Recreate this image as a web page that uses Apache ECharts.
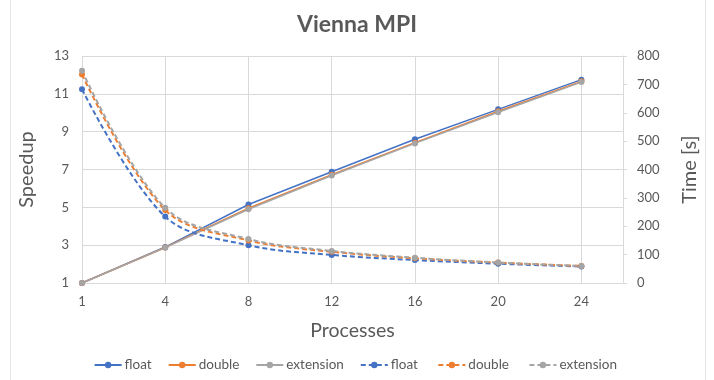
<!DOCTYPE html>
<html>
<head>
<meta charset="utf-8">
<script src="https://cdn.jsdelivr.net/npm/echarts@6/dist/echarts.min.js"></script>
<style>
  html, body { margin: 0; padding: 0; background: #fff; overflow: hidden; }
  .wrap { position: relative; width: 714px; height: 380px; }
  .frame {
    position: absolute; left: 10px; top: -2px; width: 694px; height: 382px;
    border: 1px solid #E6E6E6; pointer-events: none;
  }
  #chart { width: 714px; height: 380px; }
</style>
</head>
<body>
<div class="wrap">
  <div id="chart"></div>
  <div class="frame"></div>
</div>
<script>
// x 轴类别 (进程数)
var processes = ['1', '4', '8', '12', '16', '20', '24']
// 加速比 (左轴)
var speedupFloat = [1, 2.9, 5.15, 6.88, 8.6, 10.18, 11.75]
var speedupDouble = [1, 2.88, 4.95, 6.72, 8.42, 10.08, 11.66]
var speedupExt = [1, 2.87, 4.9, 6.68, 8.38, 10.03, 11.62]
// 时间 [s] (右轴)
var timeFloat = [683, 234, 133, 99, 81, 68, 58]
var timeDouble = [735, 257, 150, 110, 87, 72, 60]
var timeExt = [748, 265, 155, 113, 89, 72, 60]

var blue = '#4472C4'
var orange = '#ED7D31'
var gray = '#A5A5A5'
var textColor = '#595959'
var font = 'Lato'

function toPoints (arr) {
  return arr.map(function (v, i) { return [i, v] })
}

function solid (name, color, data) {
  return {
    name: name,
    type: 'line',
    yAxisIndex: 0,
    data: toPoints(data),
    symbol: 'circle',
    symbolSize: 6,
    itemStyle: { color: color },
    lineStyle: { color: color, width: 1.5 }
  }
}

function dashed (name, color, data) {
  return {
    name: name,
    type: 'line',
    yAxisIndex: 1,
    data: toPoints(data),
    smooth: 0.35,
    symbol: 'circle',
    symbolSize: 6,
    itemStyle: { color: color },
    lineStyle: { color: color, width: 2, type: [5, 3] }
  }
}

var myChart = echarts.init(document.getElementById('chart'))
myChart.setOption({
  animation: false,
  textStyle: { fontFamily: font },
  title: {
    text: 'Vienna MPI',
    left: 'center',
    top: 8,
    textStyle: { color: textColor, fontSize: 23, fontWeight: 'bold', fontFamily: font }
  },
  legend: {
    bottom: 3,
    left: 'center',
    itemWidth: 27,
    itemHeight: 8,
    itemGap: 16,
    textStyle: { color: textColor, fontSize: 13.5, fontFamily: font, padding: [0, 0, 0, -2] },
    data: ['float', 'double', 'extension', 'float ', 'double ', 'extension ']
  },
  grid: {
    left: 82,
    right: 91,
    top: 56,
    bottom: 97
  },
  xAxis: {
    type: 'value',
    min: 0,
    max: 6.5,
    interval: 1,
    name: 'Processes',
    nameLocation: 'middle',
    nameGap: 38,
    nameTextStyle: { color: textColor, fontSize: 19.5, fontFamily: font },
    axisLine: { show: true, lineStyle: { color: '#D9D9D9' } },
    axisTick: { show: false },
    axisLabel: {
      color: textColor,
      fontSize: 13,
      margin: 12,
      formatter: function (v) {
        return Number.isInteger(v) ? processes[v] : ''
      }
    },
    splitLine: { show: true, lineStyle: { color: '#D9D9D9' } }
  },
  yAxis: [
    {
      type: 'value',
      min: 1,
      max: 13,
      interval: 2,
      name: 'Speedup',
      nameLocation: 'middle',
      nameGap: 45,
      nameTextStyle: { color: textColor, fontSize: 20, fontFamily: font },
      axisLine: { show: false },
      axisTick: { show: false },
      axisLabel: { color: textColor, fontSize: 13, margin: 13 },
      splitLine: { show: true, lineStyle: { color: '#D9D9D9' } }
    },
    {
      type: 'value',
      min: 0,
      max: 800,
      interval: 100,
      name: 'Time [s]',
      nameLocation: 'middle',
      nameGap: 57,
      nameTextStyle: { color: textColor, fontSize: 20, fontFamily: font },
      axisLine: { show: true, lineStyle: { color: '#D9D9D9' } },
      axisTick: { show: true, length: 4, lineStyle: { color: '#D9D9D9' } },
      axisLabel: { color: textColor, fontSize: 13, margin: 14 },
      splitLine: { show: false }
    }
  ],
  series: [
    solid('float', blue, speedupFloat),
    solid('double', orange, speedupDouble),
    solid('extension', gray, speedupExt),
    dashed('float ', blue, timeFloat),
    dashed('double ', orange, timeDouble),
    dashed('extension ', gray, timeExt)
  ]
})
</script>
</body>
</html>
